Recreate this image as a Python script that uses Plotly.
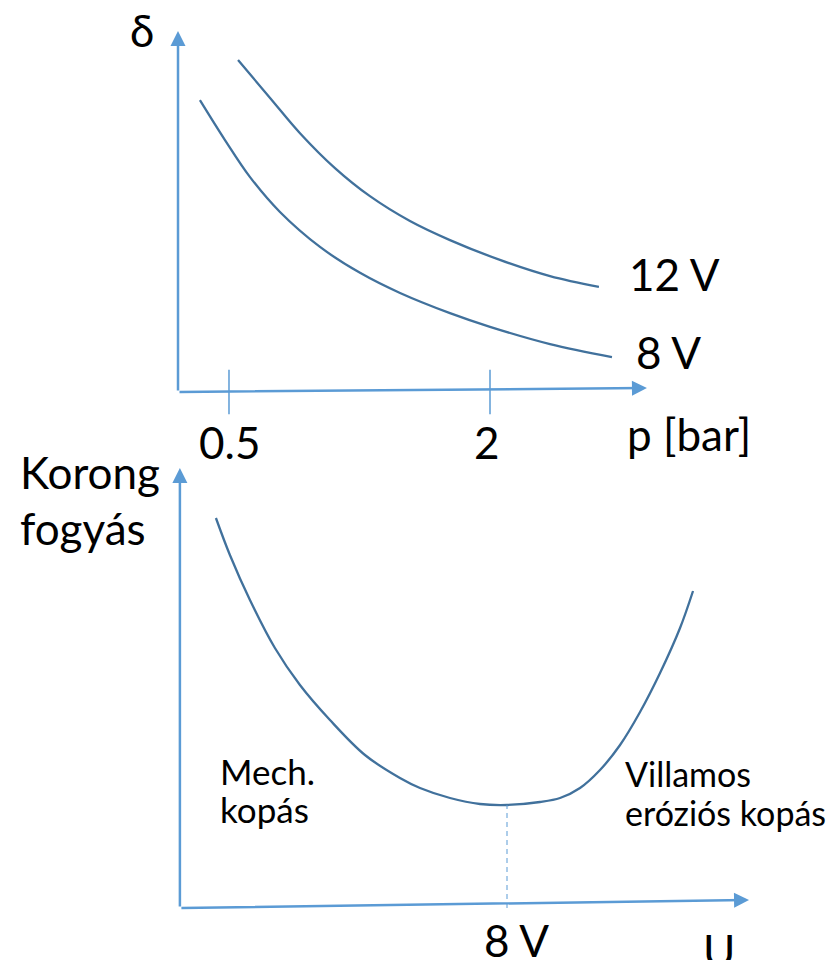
import plotly.graph_objects as go

# ---------------- data (top panel: delta vs p) ----------------
p_12v = [0.552, 0.736, 0.908, 1.109, 1.310, 1.540, 1.770, 2.057, 2.345, 2.626]
d_12v = [9.22, 8.17, 7.19, 6.22, 5.44, 4.75, 4.22, 3.67, 3.22, 2.92]

p_8v = [0.333, 0.477, 0.621, 0.793, 1.023, 1.253, 1.483, 1.770, 2.000, 2.345, 2.701]
d_8v = [8.11, 7.00, 5.97, 5.00, 4.03, 3.31, 2.75, 2.19, 1.81, 1.33, 0.97]

p_ticks = [0.5, 2]
p_tick_labels = ["0.5", "2"]

# ---------------- data (bottom panel: wear vs U) ----------------
u_vals = [0.881, 1.223, 1.713, 2.324, 2.936, 3.670, 4.526, 5.382, 5.872, 6.606,
          7.339, 8.000, 8.807, 9.297, 9.786, 10.275, 10.765, 11.254, 11.743, 12.232, 12.550]
wear_vals = [9.75, 8.825, 7.70, 6.50, 5.575, 4.70, 3.825, 3.25, 3.00, 2.75,
             2.60, 2.575, 2.65, 2.75, 3.00, 3.45, 4.075, 4.90, 5.875, 7.00, 7.925]
u_opt = 8
u_opt_label = "8 V"

AXIS_C = "#5B9BD5"
CURVE_C = "#41719C"
FONT = "Lato"

fig = go.Figure()

for xs, ys, xa, ya in [(p_12v, d_12v, "x", "y"), (p_8v, d_8v, "x", "y"), (u_vals, wear_vals, "x2", "y2")]:
    fig.add_trace(go.Scatter(x=xs, y=ys, mode="lines",
                             line=dict(color=CURVE_C, width=2.3, shape="spline", smoothing=1.0),
                             xaxis=xa, yaxis=ya, showlegend=False, hoverinfo="skip"))

ann = []
def arrow(x0, y0, x1, y1, ax_suffix=""):
    ann.append(dict(x=x1, y=y1, ax=x0, ay=y0,
                    xref="x" + ax_suffix, yref="y" + ax_suffix,
                    axref="x" + ax_suffix, ayref="y" + ax_suffix,
                    text="", showarrow=True, arrowhead=2, arrowsize=1.2,
                    arrowwidth=2.5, arrowcolor=AXIS_C, standoff=0))

# top axes arrows
arrow(0.207, 0.0, 0.207, 10.03)
arrow(0.207, 0.0, 2.902, 0.11)
# bottom axes arrows
arrow(0.0, 0.0, 0.0, 11.0, "2")
arrow(0.0, 0.0, 13.92, 0.2, "2")

shapes = []
for pt in p_ticks:
    shapes.append(dict(type="line", xref="x", yref="y", x0=pt, x1=pt, y0=-0.62, y1=0.62,
                       line=dict(color=AXIS_C, width=1.5)))
shapes.append(dict(type="line", xref="x2", yref="y2", x0=u_opt, x1=u_opt, y0=0.0, y1=2.575,
                   line=dict(color=AXIS_C, width=1, dash="5px,4px")))

def txt(s, px, py, size=44, xanchor="center", align="center"):
    ann.append(dict(text=s, x=px / 830, y=1 - py / 960, xref="paper", yref="paper",
                    xanchor=xanchor, yanchor="middle", showarrow=False, align=align,
                    font=dict(family=FONT, size=size, color="black")))

txt("δ", 142, 30)
txt("12 V", 627, 274, xanchor="left")
txt("8 V", 634, 352, xanchor="left")
txt("p [bar]", 625, 434, xanchor="left")
for pt, lab in zip(p_ticks, p_tick_labels):
    txt(lab, 229 + (pt - 0.5) * 172, 442)
txt("Korong", 18, 472, xanchor="left")
txt("fogyás", 18, 528, xanchor="left")
txt("Mech.", 218, 771, size=35, xanchor="left")
txt("kopás", 218, 809, size=35, xanchor="left")
txt("Villamos", 623, 773, size=34, xanchor="left")
txt("eróziós kopás", 623, 812, size=34, xanchor="left")
txt(u_opt_label, 516, 940)
txt("U", 719, 950)

fig.update_layout(
    width=830, height=960,
    margin=dict(l=0, r=0, t=0, b=0),
    paper_bgcolor="white", plot_bgcolor="rgba(0,0,0,0)",
    xaxis=dict(domain=[0, 1], range=[-0.816, 3.954], visible=False, fixedrange=True),
    yaxis=dict(domain=[0, 1], range=[-15.78, 10.89], visible=False, fixedrange=True),
    xaxis2=dict(domain=[0, 1], range=[-4.40, 15.90], visible=False, anchor="y2", fixedrange=True),
    yaxis2=dict(domain=[0, 1], range=[-1.3, 22.7], visible=False, anchor="x2", fixedrange=True),
    annotations=ann, shapes=shapes, showlegend=False,
)

fig.write_html("out.html", config={"displayModeBar": False},
               post_script="document.body.style.margin='0px';document.body.style.overflow='hidden';")
